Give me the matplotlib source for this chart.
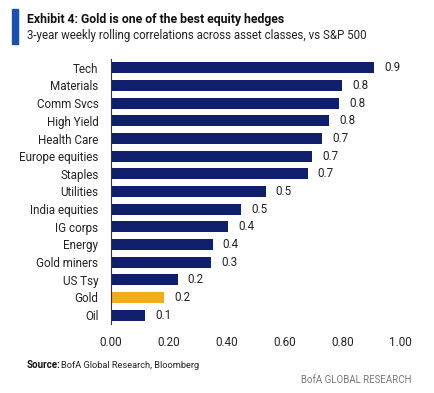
import matplotlib
matplotlib.use("Agg")
import matplotlib.pyplot as plt
from matplotlib.patches import Rectangle

categories = ["Tech", "Materials", "Comm Svcs", "High Yield", "Health Care",
              "Europe equities", "Staples", "Utilities", "India equities",
              "IG corps", "Energy", "Gold miners", "US Tsy", "Gold", "Oil"]
values = [0.91, 0.80, 0.79, 0.755, 0.73, 0.695, 0.68, 0.535, 0.45,
          0.405, 0.352, 0.346, 0.231, 0.184, 0.117]
value_labels = ["0.9", "0.8", "0.8", "0.8", "0.7", "0.7", "0.7", "0.5", "0.5",
                "0.4", "0.4", "0.3", "0.2", "0.2", "0.1"]
xticks = [0.0, 0.2, 0.4, 0.6, 0.8, 1.0]

navy = "#0f1f6b"
gold = "#f2ab1d"
colors = [gold if c == "Gold" else navy for c in categories]

plt.rcParams['font.family'] = ['Roboto', 'DejaVu Sans']

fig = plt.figure(figsize=(4.35, 3.93), dpi=100)
W, H = 435, 393

# axes: x from 111 to 400 px, bars span y ~59 to ~323 px
ax = fig.add_axes([111 / W, 1 - 324 / H, (400 - 111) / W, (324 - 59) / H])
y = list(range(len(categories)))
ax.barh(y, values, height=0.64, color=colors)
ax.set_ylim(len(categories) - 0.5, -0.5)
ax.set_xlim(0, 1.0)
ax.set_yticks(y)
ax.set_yticklabels(categories, fontsize=8.4, color="#222222")
ax.set_xticks(xticks)
ax.set_xticklabels([f"{t:.2f}" for t in xticks], fontsize=8.4, color="#222222")
ax.tick_params(axis="y", length=0, pad=9)
ax.tick_params(axis="x", length=0, pad=9)
for s in ["top", "right", "bottom"]:
    ax.spines[s].set_visible(False)
ax.spines["left"].set_color("#333333")
ax.spines["left"].set_linewidth(0.8)

for yi, v, lab in zip(y, values, value_labels):
    ax.text(v + 0.035, yi, lab, va="center", ha="left", fontsize=8.4, color="#222222")

# title block
fig.patches.append(Rectangle((12 / W, 1 - 44 / H), 6 / W, 35 / H,
                             transform=fig.transFigure, color="#1d4fb0"))
fig.text(27 / W, 1 - 20 / H, "Exhibit 4: Gold is one of the best equity hedges",
         fontsize=8.8, fontweight="bold", va="center", ha="left", color="#111111")
fig.text(27 / W, 1 - 36 / H, "3-year weekly rolling correlations across asset classes, vs S&P 500",
         fontsize=8.3, va="center", ha="left", color="#222222")

fig.text(27 / W, 1 - 365 / H, "Source:", fontsize=7.0, fontweight="bold",
         va="center", ha="left", color="#111111")
fig.text(61 / W, 1 - 365 / H, "BofA Global Research, Bloomberg",
         fontsize=6.7, va="center", ha="left", color="#222222")
fig.text(412 / W, 1 - 380 / H, "BofA GLOBAL RESEARCH",
         fontsize=7, va="center", ha="right", color="#777777")

fig.savefig("out.png", dpi=100)
